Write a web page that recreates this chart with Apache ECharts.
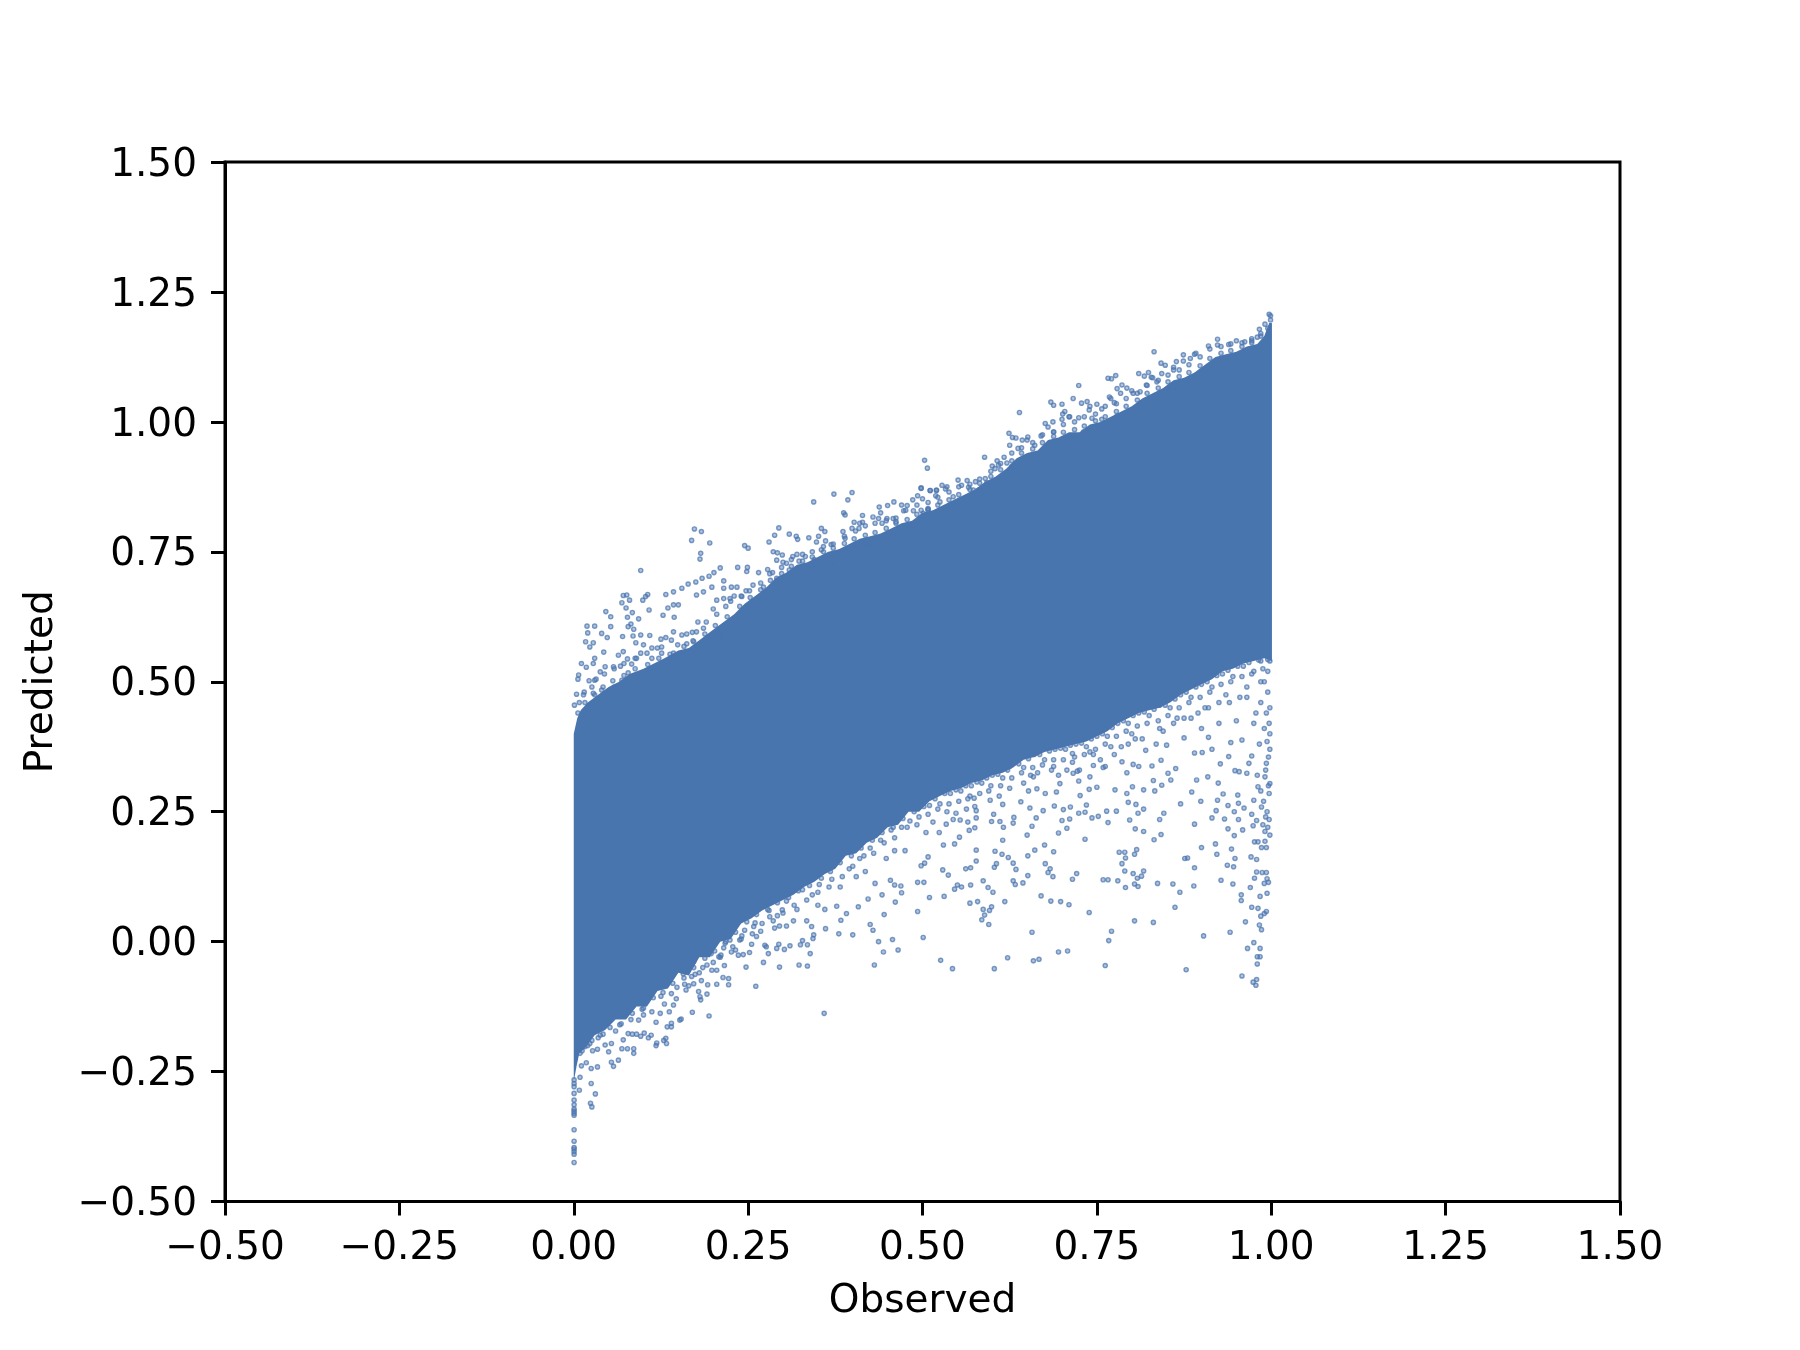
<!DOCTYPE html>
<html><head><meta charset="utf-8">
<style>html,body{margin:0;padding:0;background:#fff}#c{width:1800px;height:1350px}</style>
<script src="https://cdn.jsdelivr.net/npm/echarts@6/dist/echarts.min.js"></script>
</head><body><div id="c"></div>
<script>
const tickValues = [-0.5,-0.25,0,0.25,0.5,0.75,1,1.25,1.5];
const xName = 'Observed';
const yName = 'Predicted';

// Solid core of the cloud: [observed, predicted] along each edge
const coreUpper = [[0,.4],[.005,.43],[.01,.445],[.02,.46],[.035,.475],[.05,.49],[.065,.5],[.08,.515],[.1,.525],[.115,.535],[.13,.545],[.15,.56],[.165,.565],[.18,.58],[.195,.595],[.21,.61],[.23,.63],[.245,.65],[.26,.665],[.275,.68],[.29,.7],[.305,.71],[.32,.725],[.335,.73],[.35,.74],[.365,.75],[.38,.755],[.395,.765],[.41,.775],[.425,.78],[.44,.785],[.455,.795],[.47,.805],[.485,.81],[.5,.825],[.515,.83],[.53,.84],[.545,.85],[.56,.86],[.575,.87],[.59,.885],[.605,.895],[.62,.91],[.635,.93],[.65,.94],[.665,.945],[.68,.965],[.695,.97],[.71,.98],[.725,.98],[.74,.995],[.755,1],[.77,1.01],[.785,1.02],[.8,1.03],[.815,1.045],[.83,1.055],[.845,1.065],[.86,1.08],[.875,1.085],[.89,1.095],[.905,1.11],[.92,1.125],[.935,1.13],[.95,1.135],[.965,1.145],[.98,1.15],[.99,1.165],[.997,1.19],[1.001,1.19]];
const coreLower = [[0,-.27],[.004,-.24],[.008,-.215],[.016,-.205],[.03,-.18],[.045,-.17],[.06,-.15],[.075,-.15],[.09,-.125],[.105,-.125],[.12,-.095],[.135,-.09],[.15,-.06],[.165,-.065],[.18,-.03],[.195,-.03],[.21,0],[.225,.005],[.24,.035],[.255,.045],[.27,.06],[.285,.07],[.3,.08],[.315,.09],[.33,.105],[.345,.115],[.36,.13],[.375,.14],[.39,.165],[.405,.17],[.42,.19],[.435,.2],[.45,.22],[.465,.225],[.48,.25],[.495,.25],[.51,.27],[.525,.28],[.54,.29],[.555,.295],[.57,.305],[.585,.31],[.6,.32],[.615,.325],[.63,.335],[.645,.35],[.66,.355],[.675,.365],[.69,.37],[.705,.375],[.72,.38],[.735,.385],[.75,.395],[.765,.405],[.78,.42],[.795,.43],[.81,.44],[.825,.445],[.84,.45],[.855,.46],[.87,.475],[.885,.485],[.9,.495],[.915,.505],[.93,.52],[.945,.525],[.96,.535],[.975,.54],[.99,.545],[1.001,.54]];

// Individually visible points below the core
const lowFringeLeft = [[.0005,-.425],[.0005,-.409],[.0005,-.404],[.0005,-.399],[.0005,-.396],[.0005,-.384],[.0005,-.362],[.0005,-.334],[.0005,-.33],[.0005,-.326],[.0005,-.322],[.0005,-.314],[.0005,-.305],[.0005,-.292],[.0005,-.279],[.0005,-.273],[.0005,-.266],[.008,-.286],[.009,-.261],[.025,-.273],[.031,-.293],[.024,-.311],[.026,-.318],[.011,-.239],[.018,-.233],[.025,-.244],[.034,-.241],[.054,-.232],[.057,-.24],[.064,-.228],[.05,-.212],[.034,-.207],[.027,-.21],[.069,-.206],[.077,-.206],[.086,-.206],[.086,-.215],[.118,-.2],[.119,-.195],[.129,-.19],[.133,-.196],[.132,-.186],[.084,-.178],[.09,-.178],[.096,-.182],[.101,-.176],[.107,-.185],[.111,-.18],[.118,-.155],[.134,-.164],[.14,-.157],[.14,-.164],[.152,-.151],[.154,-.149],[.17,-.136],[.194,-.143],[.359,-.138],[.261,-.086],[.222,-.083],[.205,-.082],[.192,-.083],[.191,-.101],[.182,-.112],[.181,-.106],[.179,-.096],[.183,-.075],[.172,-.081],[.161,-.093],[.159,-.082],[.214,-.069],[.222,-.071],[.174,-.063],[.216,-.046],[.247,-.049],[.272,-.04],[.295,-.049],[.323,-.045],[.335,-.047],[.4,.013],[.38,.015],[.361,.025],[.383,.041],[.343,.006],[.344,.013],[.339,-.023],[.328,.002],[.335,-.006],[.325,-.006],[.31,-.008],[.302,-.015],[.291,-.013],[.294,-.005],[.279,-.023],[.276,-.01],[.252,-.021],[.243,-.025],[.236,-.026],[.232,-.016],[.211,-.026],[.208,-.029],[.197,-.023],[.217,-.003],[.241,.011],[.262,.01],[.274,-.007],[.288,.026],[.305,.03],[.315,.04],[.334,.04],[.341,.029],[.36,.062],[.377,.068],[.391,.054],[.408,.067],[.422,.082],[.432,.112],[.454,.118],[.299,.061],[.281,.048],[.258,.029],[.238,.003],[.224,.003],[.191,-.045],[.169,-.067],[.143,-.122],[.137,-.135],[.124,-.138],[.1,-.141],[.093,-.151],[.078,-.177],[.071,-.189],[.054,-.196],[.045,-.199],[.023,-.196],[.016,-.202],[.009,-.215]];
const lowFringeRight = [[.431,-.045],[.444,-.02],[.465,-.016],[.437,0],[.457,.004],[.501,.008],[.429,.022],[.425,.033],[.445,.052],[.493,.058],[.526,-.036],[.543,-.052],[.603,-.052],[.622,-.031],[.659,-.037],[.667,-.034],[.695,-.02],[.708,-.018],[.762,-.046],[.878,-.054],[.958,-.066],[.974,-.078],[.979,-.073],[.978,-.084],[.98,-.043],[.98,-.029],[.984,-.029],[.966,-.013],[.984,-.013],[.975,-.002],[.903,.011],[.941,.018],[.657,.018],[.771,.02],[.767,.002],[.804,.04],[.831,.037],[.963,.038],[.983,.032],[.986,.023],[.985,.049],[.99,.054],[.993,.058],[.862,.066],[.739,.056],[.595,.033],[.585,.042],[.589,.051],[.596,.06],[.599,.067],[.587,.062],[.568,.074],[.579,.077],[.618,.077],[.67,.088],[.684,.078],[.698,.077],[.71,.071],[.461,.076],[.51,.085],[.531,.087],[.442,.09],[.601,.095],[.594,.104],[.569,.109],[.556,.105],[.55,.109],[.546,.101],[.47,.094],[.469,.107],[.46,.109],[.493,.114],[.502,.114],[.587,.117],[.63,.117],[.633,.11],[.644,.113],[.651,.127],[.687,.125],[.715,.12],[.721,.131],[.759,.119],[.766,.119],[.78,.117],[.791,.104],[.804,.111],[.809,.106],[.808,.122],[.814,.126],[.802,.131],[.817,.136],[.79,.136],[.786,.15],[.782,.172],[.79,.172],[.791,.161],[.804,.168],[.807,.177],[.837,.112],[.859,.111],[.869,.095],[.889,.107],[.928,.118],[.945,.111],[.97,.104],[.957,.09],[.957,.079],[.972,.066],[.981,.064],[.984,.087],[.994,.093],[.976,.122],[.979,.134],[.987,.133],[.993,.133],[.994,.121],[.996,.114],[.99,.112],[.89,.142],[.876,.16],[.88,.161],[.9,.181],[.92,.188],[.922,.168],[.943,.178],[.948,.16],[.937,.147],[.946,.144],[.971,.163],[.979,.158],[.986,.181],[.976,.192],[.981,.192],[.991,.193],[.993,.181],[.947,.204],[.938,.217],[.959,.215],[.974,.223],[.991,.212],[.995,.22],[.89,.226],[.842,.206],[.832,.196],[.817,.212],[.805,.217],[.733,.197],[.695,.209],[.707,.218],[.65,.205],[.657,.222],[.615,.195],[.577,.176],[.604,.174],[.614,.168],[.623,.162],[.63,.151],[.634,.139],[.606,.15],[.603,.143],[.577,.155],[.569,.142],[.562,.14],[.529,.138],[.537,.128],[.508,.163],[.503,.151],[.498,.146],[.651,.165],[.661,.176],[.675,.186],[.688,.173],[.676,.15],[.683,.14],[.68,.133]];
const lowFringeBand = [[.553,.201],[.546,.188],[.53,.186],[.524,.21],[.534,.226],[.567,.214],[.575,.219],[.577,.238],[.565,.23],[.544,.235],[.554,.234],[.548,.247],[.599,.231],[.611,.231],[.616,.22],[.63,.228],[.631,.239],[.602,.245],[.615,.264],[.597,.272],[.577,.252],[.563,.255],[.574,.276],[.663,.238],[.673,.252],[.654,.257],[.641,.269],[.7,.233],[.711,.236],[.689,.261],[.702,.254],[.712,.259],[.724,.247],[.733,.249],[.743,.238],[.752,.241],[.766,.229],[.764,.251],[.778,.251],[.797,.234],[.809,.247],[.817,.255],[.806,.264],[.795,.268],[.793,.285],[.801,.298],[.817,.292],[.776,.292],[.75,.297],[.739,.293],[.726,.281],[.735,.263],[.724,.309],[.692,.288],[.697,.304],[.676,.285],[.664,.294],[.652,.29],[.846,.247],[.84,.235],[.87,.265],[.899,.27],[.886,.288],[.893,.311],[.915,.238],[.921,.252],[.933,.236],[.953,.235],[.947,.25],[.961,.257],[.953,.266],[.952,.282],[.923,.272],[.931,.284],[.938,.262],[.972,.245],[.979,.233],[.975,.272],[.986,.259],[.992,.24],[.997,.285],[.981,.298],[.924,.305],[.909,.317],[.833,.29],[.831,.31],[.843,.301],[.856,.311],[.852,.324],[.863,.333],[.842,.349],[.829,.338],[.81,.337],[.802,.341],[.793,.325],[.786,.346],[.745,.339],[.759,.335],[.716,.324],[.722,.328],[.89,.363],[.901,.364],[.915,.37],[.939,.356],[.927,.342],[.948,.329],[.965,.324],[.972,.357],[.968,.343],[.942,.383],[.91,.393],[.958,.388],[.993,.343],[.991,.317],[.998,.304],[.954,.327],[.625,.337],[.659,.317],[.688,.337],[.707,.33],[.74,.317],[.762,.337],[.64,.375],[.665,.365],[.69,.37],[.715,.362],[.74,.365],[.77,.375],[.795,.38],[.82,.368],[.85,.378],[.875,.392],[.9,.41],[.925,.42],[.95,.425],[.975,.42],[.99,.41],[.84,.41],[.86,.42],[.885,.43],[.8,.4],[.91,.45],[.94,.46],[.965,.47],[.985,.46],[.998,.45],[.998,.4],[.998,.37]];
// Crowded points hugging the lower edge of the core
const lowDense = [[.02,-.2],[.035,-.185],[.042,-.178],[.06,-.172],[.068,-.158],[.082,-.15],[.1,-.128],[.112,-.135],[.125,-.105],[.14,-.1],[.148,-.088],[.158,-.07],[.172,-.038],[.185,-.05],[.2,-.04],[.215,-.012],[.228,-.01],[.245,.022],[.26,.036],[.268,.02],[.28,.06],[.292,.05],[.305,.078],[.32,.062],[.328,.1],[.342,.09],[.352,.11],[.37,.12],[.382,.105],[.395,.14],[.41,.16],[.425,.18],[.418,.135],[.44,.195],[.455,.215],[.448,.16],[.47,.22],[.482,.232],[.475,.175],[.495,.24],[.51,.262],[.505,.21],[.525,.265],[.54,.285],[.535,.25],[.555,.29],[.57,.3],[.565,.275],[.585,.305],[.6,.32],[.595,.29],[.615,.315],[.63,.345],[.625,.295],[.645,.335],[.66,.36],[.655,.32],[.675,.35],[.69,.375],[.685,.33],[.705,.37],[.72,.38],[.715,.345],[.735,.375],[.75,.395],[.745,.36],[.765,.395],[.78,.42],[.775,.36],[.795,.42],[.81,.44],[.805,.39],[.825,.435],[.84,.455],[.835,.38],[.855,.45],[.87,.475],[.865,.43],[.885,.47],[.9,.495],[.895,.44],[.915,.49],[.93,.515],[.925,.46],[.945,.51],[.96,.53],[.955,.47],[.975,.52],[.985,.54],[.99,.5],[.995,.52],[.998,.54],[.995,.48],[.993,.44],[.997,.42],[.994,.385],[.996,.355],[.992,.33],[.996,.3],[.989,.27],[.994,.25],[.997,.235],[.988,.225],[.998,.205],[.985,.29],[.98,.32],[.983,.38],[.978,.44]];
const lowDenseExtra = [[.13,-.12],[.147,-.11],[.165,-.085],[.18,-.06],[.198,-.055],[.21,-.03],[.226,-.02],[.24,.005],[.256,.015],[.27,.035],[.286,.04],[.3,.055],[.316,.07],[.334,.08],[.35,.095],[.366,.105],[.385,.125],[.4,.145],[.416,.165],[.43,.17],[.445,.19],[.46,.2],[.478,.22],[.492,.225],[.508,.245],[.522,.255],[.538,.265],[.552,.27],[.568,.28],[.582,.285],[.598,.3],[.612,.3],[.628,.315],[.642,.325],[.658,.335],[.672,.34],[.688,.35],[.702,.35],[.718,.355],[.732,.36],[.748,.37],[.762,.38],[.778,.395],[.792,.405],[.808,.415],[.822,.42],[.838,.425],[.852,.435],[.868,.45],[.882,.46],[.898,.47],[.912,.48],[.928,.495],[.942,.5],[.958,.51],[.972,.515],[.988,.525],[.665,.325],[.695,.32],[.725,.33],[.755,.35],[.785,.375],[.815,.39],[.845,.405],[.875,.43],[.905,.45],[.935,.475],[.965,.49],[.985,.5],[.645,.305],[.61,.28],[.575,.26],[.515,.23],[.46,.175],[.405,.125],[.35,.07],[.295,.03],[.255,-.005],[.205,-.055]];
// Points sitting right on the lower edge
const lowEdge = [[.012,-.21],[.026,-.19],[.038,-.18],[.052,-.165],[.066,-.16],[.084,-.138],[.098,-.13],[.114,-.108],[.128,-.098],[.142,-.08],[.157,-.062],[.172,-.05],[.188,-.032],[.202,-.018],[.218,0],[.232,.018],[.248,.038],[.262,.052],[.278,.062],[.292,.075],[.308,.085],[.322,.098],[.338,.108],[.355,.122],[.368,.135],[.382,.152],[.398,.165],[.412,.18],[.428,.195],[.442,.21],[.458,.22],[.472,.237],[.488,.25],[.502,.26],[.518,.275],[.532,.285],[.548,.292],[.562,.3],[.578,.307],[.592,.315],[.608,.322],[.622,.33],[.638,.342],[.652,.352],[.668,.36],[.682,.367],[.698,.372],[.712,.378],[.728,.382],[.742,.39],[.758,.4],[.772,.412],[.788,.425],[.802,.435],[.818,.442],[.832,.447],[.848,.455],[.862,.467],[.878,.48],[.892,.49],[.908,.5],[.922,.512],[.938,.522],[.952,.53],[.968,.537],[.982,.542],[.995,.543]];

// Individually visible points above the core
const highFringeLeft = [[.096,.714],[.173,.794],[.183,.789],[.169,.772],[.195,.767],[.182,.747],[.181,.736],[.245,.762],[.25,.757],[.28,.769],[.288,.782],[.294,.796],[.309,.784],[.319,.78],[.321,.774],[.337,.777],[.344,.846],[.373,.861],[.399,.864],[.393,.85],[.355,.795],[.36,.789],[.351,.78],[.348,.769],[.361,.771],[.369,.764],[.355,.754],[.387,.825],[.389,.821],[.386,.789],[.389,.776],[.399,.795],[.409,.795],[.402,.807],[.414,.807],[.414,.82],[.429,.817],[.438,.836],[.45,.839],[.459,.846],[.478,.839],[.486,.85],[.493,.858],[.498,.873],[.511,.868],[.52,.868],[.437,.814],[.449,.814],[.458,.814],[.462,.808],[.442,.805],[.491,.806],[.473,.829],[.487,.829],[.508,.83],[.019,.607],[.03,.607],[.02,.594],[.04,.593],[.048,.585],[.017,.577],[.028,.575],[.023,.567],[.043,.557],[.03,.545],[.011,.535],[.018,.528],[.028,.535],[.007,.513],[.006,.505],[.038,.519],[.045,.529],[.022,.502],[.03,.503],[.004,.476],[.015,.48],[.001,.455],[.028,.478],[.04,.484],[.05,.481],[.046,.635],[.053,.625],[.053,.606],[.069,.652],[.071,.666],[.076,.667],[.08,.657],[.099,.657],[.103,.664],[.106,.668],[.108,.638],[.075,.642],[.084,.633],[.077,.624],[.093,.621],[.082,.611],[.078,.606],[.086,.601],[.07,.587],[.085,.588],[.096,.59],[.109,.589],[.089,.575],[.1,.571],[.112,.565],[.096,.555],[.071,.558],[.064,.551],[.077,.544],[.088,.545],[.067,.53],[.083,.534],[.057,.529],[.078,.517],[.069,.503],[.066,.487],[.058,.49],[.132,.668],[.143,.673],[.155,.68],[.164,.688],[.175,.692],[.184,.699],[.194,.703],[.201,.71],[.21,.719],[.235,.72],[.249,.72],[.248,.712],[.128,.628],[.135,.642],[.143,.648],[.15,.648],[.144,.624],[.126,.567],[.132,.585],[.143,.596],[.162,.592],[.149,.571],[.162,.573],[.171,.579],[.112,.545],[.126,.555],[.143,.555],[.157,.551],[.169,.558],[.176,.596],[.186,.603],[.198,.588],[.191,.558],[.2,.555],[.212,.587],[.229,.593],[.238,.606],[.248,.625],[.262,.635],[.176,.667],[.186,.673],[.198,.682],[.215,.694],[.215,.68],[.226,.682],[.234,.682],[.205,.657],[.224,.66],[.241,.664],[.247,.675],[.257,.686],[.272,.682],[.278,.716],[.281,.708],[.291,.699],[.286,.75],[.292,.748],[.299,.744],[.291,.734],[.305,.728],[.314,.741],[.323,.732],[.332,.741],[.345,.735],[.309,.715],[.329,.718],[.343,.719],[.355,.718],[.372,.728],[.382,.75],[.394,.752],[.403,.763],[.413,.763],[.422,.76],[.434,.766],[.453,.782],[.465,.779],[.48,.802],[.501,.824]];
const highFringeRight = [[.997,1.207],[.999,1.204],[.999,1.196],[.991,1.188],[.983,1.178],[.98,1.163],[.972,1.156],[.962,1.154],[.95,1.156],[.939,1.149],[.923,1.159],[.923,1.148],[.91,1.146],[.892,1.132],[.874,1.129],[.884,1.122],[.832,1.135],[.842,1.113],[.848,1.109],[.864,1.116],[.874,1.117],[.86,1.1],[.843,1.093],[.824,1.095],[.81,1.093],[.818,1.088],[.828,1.086],[.777,1.089],[.766,1.084],[.771,1.083],[.724,1.07],[.786,1.071],[.779,1.064],[.793,1.065],[.784,1.055],[.768,1.048],[.802,1.055],[.812,1.058],[.821,1.071],[.836,1.077],[.85,1.062],[.864,1.06],[.884,1.055],[.684,1.038],[.688,1.032],[.7,1.034],[.716,1.045],[.728,1.036],[.736,1.039],[.75,1.034],[.739,1.023],[.757,1.025],[.775,1.037],[.639,1.018],[.704,1.02],[.701,1.015],[.7,1.005],[.687,1],[.711,1.01],[.724,1.008],[.743,1.007],[.779,1.011],[.757,1.005],[.797,1.01],[.812,1.013],[.826,1.029],[.676,.997],[.624,.978],[.629,.97],[.634,.969],[.651,.971],[.67,.973],[.688,.981],[.731,.981],[.643,.965],[.637,.949],[.661,.955],[.589,.932],[.617,.932],[.607,.925],[.604,.91],[.609,.917],[.621,.921],[.628,.914],[.503,.926],[.507,.911],[.551,.888],[.564,.887],[.556,.878],[.566,.874],[.576,.885],[.59,.891],[.592,.883],[.61,.889],[.528,.878],[.52,.869],[.511,.868],[.533,.871],[.498,.872],[.5,.852],[.519,.858],[.544,.856],[.573,.869],[.581,.869],[.525,.846],[.508,.833],[.498,.83]];
// Crowded points hugging the upper edge of the core
const highDense = [[.008,.46],[.014,.475],[.026,.49],[.032,.505],[.044,.515],[.058,.525],[.072,.535],[.09,.545],[.105,.555],[.12,.565],[.125,.582],[.14,.58],[.155,.59],[.17,.595],[.178,.615],[.19,.615],[.205,.63],[.218,.645],[.225,.655],[.24,.665],[.252,.675],[.268,.69],[.285,.71],[.298,.72],[.312,.735],[.328,.745],[.342,.75],[.358,.76],[.372,.765],[.388,.78],[.404,.79],[.418,.8],[.432,.805],[.448,.81],[.462,.815],[.476,.83],[.492,.84],[.508,.845],[.522,.855],[.538,.865],[.552,.875],[.568,.88],[.582,.89],[.598,.905],[.612,.92],[.628,.94],[.642,.95],[.658,.96],[.672,.975],[.688,.98],[.702,.995],[.718,1],[.732,1.01],[.748,1.015],[.762,1.03],[.778,1.035],[.792,1.045],[.808,1.055],[.822,1.07],[.838,1.08],[.852,1.09],[.868,1.1],[.882,1.11],[.898,1.125],[.912,1.14],[.928,1.145],[.942,1.15],[.958,1.152],[.972,1.16],[.985,1.17],[.995,1.18],[.2,.64],[.215,.66],[.23,.665],[.265,.71],[.3,.73],[.32,.745],[.41,.805],[.44,.825],[.47,.84],[.535,.875],[.6,.915],[.625,.955],[.65,.965],[.68,.99],[.71,1.01],[.74,1.03],[.77,1.045],[.8,1.06],[.83,1.085],[.86,1.105],[.89,1.13]];
// Points sitting right on the upper edge
const highEdge = [[.006,.44],[.016,.46],[.03,.475],[.042,.49],[.056,.502],[.072,.512],[.088,.525],[.106,.533],[.122,.545],[.138,.553],[.158,.568],[.172,.577],[.188,.592],[.203,.608],[.22,.625],[.238,.645],[.253,.662],[.268,.677],[.282,.695],[.298,.708],[.312,.722],[.328,.732],[.342,.74],[.358,.75],[.372,.757],[.388,.766],[.402,.775],[.418,.782],[.432,.787],[.448,.795],[.462,.805],[.478,.812],[.492,.822],[.508,.832],[.522,.84],[.538,.85],[.552,.86],[.568,.87],[.582,.882],[.598,.895],[.612,.908],[.628,.925],[.642,.94],[.658,.948],[.672,.96],[.688,.972],[.702,.98],[.718,.985],[.732,.992],[.748,1.002],[.762,1.01],[.778,1.02],[.792,1.03],[.808,1.042],[.822,1.055],[.838,1.065],[.852,1.077],[.868,1.087],[.882,1.095],[.898,1.108],[.912,1.122],[.928,1.132],[.942,1.137],[.958,1.145],[.972,1.152],[.985,1.165]];

const fill = '#4975AF';
const chart = echarts.init(document.getElementById('c'), null, {renderer:'canvas'});
const label = {color:'#000', fontFamily:'DejaVu Sans', fontSize:39, margin:28,
  formatter: v => (+v).toFixed(2).replace('-', '\u2212')};
const axis = (name, gap, lab) => ({
  type:'value', min:tickValues[0], max:tickValues[tickValues.length-1], interval:0.25,
  name, nameLocation:'middle', nameGap:gap,
  nameTextStyle:{color:'#000', fontFamily:'DejaVu Sans', fontSize:39},
  splitLine:{show:false},
  axisLine:{show:true, onZero:false, lineStyle:{color:'#000', width:3}},
  axisTick:{show:true, length:14, lineStyle:{color:'#000', width:3}},
  axisLabel:lab
});
const cloud = arr => ({
  type:'scatter', data:arr, symbolSize:4.2, animation:false, silent:true, large:false,
  itemStyle:{color:'rgba(74,117,175,0.55)', borderColor:'rgba(74,117,175,0.9)', borderWidth:1.4}
});
chart.setOption({
  animation:false,
  backgroundColor:'#fff',
  grid:{left:225, right:180, top:162, bottom:148.5, show:true, borderColor:'#000', borderWidth:3, backgroundColor:'transparent'},
  xAxis:axis(xName, 81, label),
  yAxis:axis(yName, 164, Object.assign({}, label, {verticalAlign:'top', lineHeight:7})),
  series:[
    {type:'custom', coordinateSystem:'cartesian2d', silent:true, animation:false, data:[[0,0]],
     clip:true,
     renderItem:(params, api) => ({
       type:'polygon',
       shape:{points:coreUpper.concat(coreLower.slice().reverse()).map(p => api.coord(p))},
       style:{fill}
     })},
    cloud(lowFringeLeft), cloud(lowFringeRight), cloud(lowFringeBand), cloud(lowDense), cloud(lowDenseExtra), cloud(lowEdge),
    cloud(highFringeLeft), cloud(highFringeRight), cloud(highDense), cloud(highEdge)
  ]
});
</script></body></html>
